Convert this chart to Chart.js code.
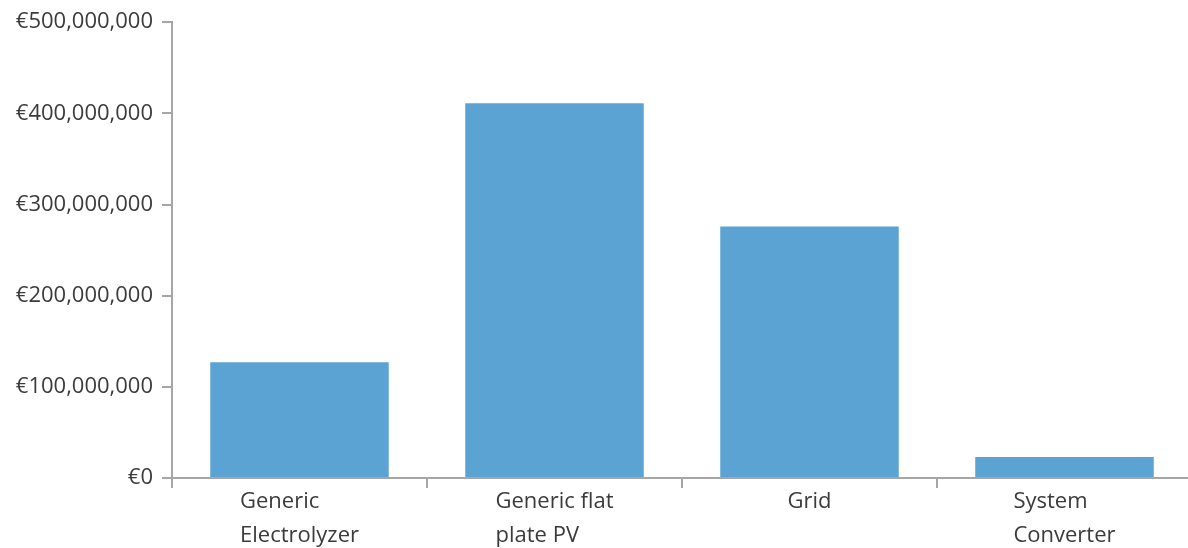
<!DOCTYPE html>
<html lang="en">
<head>
    <meta charset="UTF-8">
    <title>Costs by component</title>
    <style>
        html, body {
            margin: 0;
            padding: 0;
            background: #ffffff;
            overflow: hidden;
        }
        .chart-wrapper {
            width: 1192px;
            height: 548px;
        }
    </style>
    <script src="https://cdn.jsdelivr.net/npm/chart.js"></script>
</head>
<body>
    <div class="chart-wrapper">
        <canvas id="barChart"></canvas>
    </div>
    <script>
        const categories = [
            ['Generic', 'Electrolyzer'],
            ['Generic flat', 'plate PV'],
            ['Grid'],
            ['System', 'Converter']
        ];
        const costValues = [127000000, 411000000, 276000000, 23000000];
        const yTicks = [0, 100000000, 200000000, 300000000, 400000000, 500000000];

        const axisGray = '#a6a6a6';
        const textGray = '#3b3b3b';
        const fontFamily = '"Open Sans", "Noto Sans", sans-serif';

        const euro = v => '€' + v.toLocaleString('en-US');

        // x labels drawn left-aligned inside their block, like the original
        const leftLabels = {
            id: 'leftLabels',
            afterDraw(chart) {
                const ctx = chart.ctx;
                const x = chart.scales.x;
                ctx.save();
                ctx.font = '22px ' + fontFamily;
                ctx.fillStyle = textGray;
                ctx.textBaseline = 'top';
                ctx.textAlign = 'left';
                categories.forEach((lines, i) => {
                    const cx = x.getPixelForValue(i);
                    const w = Math.max(...lines.map(l => ctx.measureText(l).width));
                    lines.forEach((l, k) => {
                        ctx.fillText(l, cx - w / 2, x.top + 13 + k * 34);
                    });
                });
                ctx.restore();
            }
        };

        new Chart(document.getElementById('barChart'), {
            type: 'bar',
            data: {
                labels: categories.map(c => c.join(' ')),
                datasets: [{
                    data: costValues,
                    backgroundColor: '#5ba3d3',
                    borderWidth: 0,
                    barPercentage: 0.7,
                    categoryPercentage: 1.0
                }]
            },
            options: {
                responsive: true,
                maintainAspectRatio: false,
                animation: false,
                layout: { padding: { top: 22, right: 0, left: 0, bottom: 0 } },
                plugins: {
                    legend: { display: false },
                    tooltip: { enabled: false }
                },
                scales: {
                    x: {
                        offset: true,
                        afterFit: s => { s.height = 70; },
                        border: { display: true, color: axisGray, width: 2 },
                        grid: {
                            offset: true,
                            drawOnChartArea: false,
                            drawTicks: true,
                            tickLength: 10,
                            color: axisGray,
                            lineWidth: 2
                        },
                        ticks: { display: false }
                    },
                    y: {
                        min: 0,
                        max: 500000000,
                        afterFit: s => { s.width = 172; },
                        afterBuildTicks: s => { s.ticks = yTicks.map(v => ({ value: v })); },
                        border: { display: true, color: axisGray, width: 2 },
                        grid: {
                            drawOnChartArea: false,
                            drawTicks: true,
                            tickLength: 10,
                            color: axisGray,
                            lineWidth: 2
                        },
                        ticks: {
                            color: textGray,
                            padding: 9,
                            font: { size: 22, family: fontFamily },
                            callback: v => euro(v)
                        }
                    }
                }
            },
            plugins: [leftLabels]
        });
    </script>
</body>
</html>
